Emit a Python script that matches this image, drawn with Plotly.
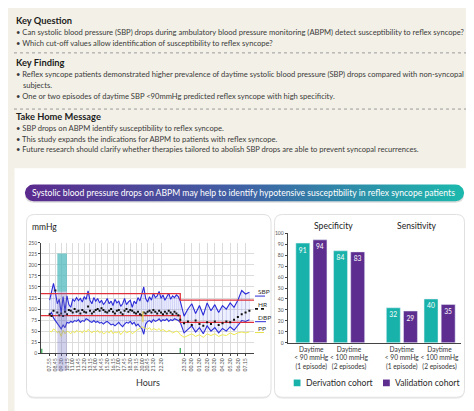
import numpy as np
import plotly.graph_objects as go

W, H = 474, 411

# ---------------- text content ----------------
key_question = [
    "• Can systolic blood pressure (SBP) drops during ambulatory blood pressure monitoring (ABPM) detect susceptibility to reflex syncope?",
    "• Which cut-off values allow identification of susceptibility to reflex syncope?",
]
key_finding = [
    "• Reflex syncope patients demonstrated higher prevalence of daytime systolic blood pressure (SBP) drops compared with non-syncopal",
    "subjects.",
    "• One or two episodes of daytime SBP <90mmHg predicted reflex syncope with high specificity.",
]
take_home = [
    "• SBP drops on ABPM identify susceptibility to reflex syncope.",
    "• This study expands the indications for ABPM to patients with reflex syncope.",
    "• Future research should clarify whether therapies tailored to abolish SBP drops are able to prevent syncopal recurrences.",
]
banner_text = "Systolic blood pressure drops on ABPM may help to identify hypotensive susceptibility in reflex syncope patients"

# ---------------- ABPM data ----------------
day_slots = list(range(68))
night_slots = list(range(68, 105, 2))
slots = day_slots + night_slots
night_start = 68

sbp = [120, 140, 158, 138, 112, 122, 92, 128, 96, 130,
       110, 104, 122, 118, 126, 119, 124, 116, 128, 122,
       141, 120, 112, 126, 118, 124, 114, 120, 110, 116,
       124, 112, 118, 108, 122, 114, 118, 106, 112, 124,
       110, 116, 120, 104, 118, 112, 126, 118, 132, 150,
       124, 116, 128, 120, 136, 126, 130, 140, 124, 132,
       120, 128, 136, 122, 130, 126, 132, 128,
       118, 84, 100, 112, 90, 108, 86, 114, 96, 110, 92, 108, 100, 114, 104, 120, 142, 134, 138]
dbp = [88, 92, 80, 74, 68, 60, 55, 64, 58, 70,
       68, 72, 70, 74, 72, 76, 70, 74, 72, 78,
       76, 72, 70, 74, 70, 72, 68, 70, 66, 70,
       72, 68, 64, 66, 62, 66, 70, 64, 60, 66,
       70, 68, 72, 66, 70, 62, 66, 60, 56, 43,
       66, 72, 74, 70, 76, 72, 74, 78, 72, 76,
       74, 78, 72, 76, 74, 78, 76, 74,
       70, 46, 54, 62, 48, 58, 44, 62, 50, 58, 46, 56, 50, 60, 52, 62, 74, 72, 76]
hr = [88, 84, 96, 142, 92, 86, 90, 84, 94, 88,
      98, 96, 92, 100, 94, 96, 90, 98, 94, 92,
      106, 96, 90, 94, 98, 100, 96, 102, 98, 94,
      92, 96, 100, 94, 90, 96, 98, 92, 88, 96,
      100, 94, 98, 96, 92, 90, 94, 88, 86, 92,
      90, 94, 96, 92, 98, 94, 90, 96, 92, 88,
      94, 90, 96, 92, 88, 94, 90, 86,
      76, 68, 72, 64, 74, 66, 62, 70, 66, 72, 64, 68, 72, 70, 76, 82, 88, 92, 96]
pp = [50, 48, 55, 52, 46, 50, 38, 52, 44, 50,
      48, 44, 50, 46, 52, 48, 50, 46, 52, 48,
      54, 50, 46, 50, 48, 52, 46, 50, 44, 46,
      50, 46, 52, 44, 48, 46, 50, 42, 48, 52,
      46, 48, 50, 44, 48, 52, 54, 56, 60, 58,
      56, 54, 58, 52, 56, 54, 52, 56, 50, 54,
      50, 48, 52, 50, 46, 48, 50, 48,
      42, 36, 40, 44, 38, 42, 36, 44, 40, 44, 38, 42, 40, 46, 42, 46, 48, 46, 48]

tick_slots = [0, 3, 6, 9, 12, 15, 18, 21, 24, 27, 30, 33, 36, 39, 42, 45, 48, 51, 54,
              58, 70, 74, 78, 82, 86, 90, 94, 98, 102]
tick_labels = ["07.55", "08.45", "09.30", "10.15", "11.00", "11.45", "12.30", "13.15", "14.00",
               "14.45", "15.30", "16.15", "17.00", "17.45", "18.30", "19.15", "20.00", "20.45",
               "21.30", "22.30", "23.30", "00.30", "01.30", "02.30", "03.30", "04.30", "05.30",
               "06.30", "07.15"]
sbp_limit = [135, 120]   # day, night
dbp_limit = [85, 70]
syncope_span = [4, 9]
syncope_sbp = [139, 226]
marker_slot = [48, 49]
marker_range = [70, 95]

# ---------------- bar data ----------------
bar_labels = ["Daytime<br>&lt; 90 mmHg<br>(1 episode)", "Daytime<br>&lt; 100 mmHg<br>(2 episodes)",
              "Daytime<br>&lt; 90 mmHg<br>(1 episode)", "Daytime<br>&lt; 100 mmHg<br>(2 episodes)"]
bar_pos = [0, 1, 2.4, 3.4]
derivation = [91, 84, 32, 40]
validation = [94, 83, 29, 35]

TEAL = "#19b2aa"
PURPLE = "#5d2e8f"
BLUE = "#2a2ad8"
FONT = "Lato, 'Open Sans', sans-serif"

fig = go.Figure()

# ---------------- decoration layer (pixel coordinates on x/y) ----------------
def rr(x0, y0, x1, y1, r):
    return (f"M{x0+r},{y0} L{x1-r},{y0} Q{x1},{y0} {x1},{y0+r} L{x1},{y1-r} "
            f"Q{x1},{y1} {x1-r},{y1} L{x0+r},{y1} Q{x0},{y1} {x0},{y1-r} "
            f"L{x0},{y0+r} Q{x0},{y0} {x0+r},{y0} Z")

shapes = []
shapes.append(dict(type="rect", xref="x", yref="y", x0=6.5, y0=159.5, x1=467.5, y1=407,
                   fillcolor="white", line=dict(width=0), layer="below"))
for x0, x1 in [(18.5, 263), (266.5, 456.5)]:
    shapes.append(dict(type="path", xref="x", yref="y", path=rr(x0, 208, x1, 393.5, 8),
                       fillcolor="#ececec", line=dict(width=0), layer="below"))
    shapes.append(dict(type="path", xref="x", yref="y", path=rr(x0, 206.5, x1, 392, 8),
                       fillcolor="white", line=dict(color="#e0e0e0", width=1), layer="below"))
# banner shadow
shapes.append(dict(type="path", xref="x", yref="y", path=rr(17, 177.5, 456, 194.5, 8.5),
                   fillcolor="#dcdcdc", line=dict(width=0), layer="below"))
# dotted separators
for yy in [42.5, 99.5]:
    shapes.append(dict(type="line", xref="x", yref="y", x0=6, x1=470, y0=yy, y1=yy,
                       line=dict(color="#9a9a9a", width=1, dash="dot"), layer="below"))

# gradient pill
r = 8.5
cy = 184.5
xl, xr = 17 + r, 456 - r
t1 = np.linspace(np.pi / 2, 3 * np.pi / 2, 24)
t2 = np.linspace(-np.pi / 2, np.pi / 2, 24)
px = np.concatenate([xl + r * np.cos(t1), xr + r * np.cos(t2)])
py = np.concatenate([cy - r * np.sin(t1), cy - r * np.sin(t2)])
px = np.append(px, px[0])
py = np.append(py, py[0])
fig.add_trace(go.Scatter(x=px, y=py, mode="lines", fill="toself", line=dict(width=0),
                         fillgradient=dict(type="horizontal",
                                           colorscale=[[0, "#5b2a8e"], [0.5, "#3f62a5"], [1, "#1cb9ad"]]),
                         hoverinfo="skip", showlegend=False, xaxis="x", yaxis="y"))

annotations = []
def T(text, x, y, size=7.6, color="#3a3a3a", anchor="left"):
    annotations.append(dict(text=text, x=x, y=y, xref="x", yref="y", xanchor=anchor,
                            yanchor="middle", showarrow=False,
                            font=dict(size=size, color=color, family=FONT)))

T("<b>Key Question</b>", 6, 9.5, 9.3, "#1c1c1c")
for i, s in enumerate(key_question):
    T(s, 6, 21.5 + 11 * i)
T("<b>Key Finding</b>", 6, 52, 9.3, "#1c1c1c")
T(key_finding[0], 6, 63.5)
T(key_finding[1], 13, 74.8)
T(key_finding[2], 6, 86.5)
T("<b>Take Home Message</b>", 6, 107.5, 9.3, "#1c1c1c")
for i, s in enumerate(take_home):
    T(s, 6, 118.5 + 11 * i)
T(banner_text, 235, 184.5, 8.6, "white", "center")

T("mmHg", 21.5, 219, 8.5, "#222")
T("Hours", 140, 377.5, 9, "#333", "center")
T("SBP", 247.5, 285, 6.5, "#333")
T("HR", 247.5, 298, 6.5, "#333")
T("DBP", 247.5, 311.2, 6.5, "#333")
T("PP", 247.5, 322.6, 6.5, "#333")
shapes.append(dict(type="line", xref="x", yref="y", x0=247, x1=257, y0=289.3, y1=289.3, line=dict(color=BLUE, width=1)))
shapes.append(dict(type="line", xref="x", yref="y", x0=247, x1=257, y0=302.3, y1=302.3, line=dict(color="#111", width=1.6, dash="dot")))
shapes.append(dict(type="line", xref="x", yref="y", x0=247, x1=258, y0=315.3, y1=315.3, line=dict(color=BLUE, width=1)))
shapes.append(dict(type="line", xref="x", yref="y", x0=247, x1=256, y0=326.3, y1=326.3, line=dict(color="#e6e24a", width=1)))

T("Specificity", 325, 218.5, 8.6, "#222", "center")
T("Sensitivity", 408.5, 218.5, 8.6, "#222", "center")
shapes.append(dict(type="rect", xref="x", yref="y", x0=285.7, x1=292.5, y0=374, y1=380.8, fillcolor=TEAL, line=dict(width=0)))
shapes.append(dict(type="rect", xref="x", yref="y", x0=375, x1=381.8, y0=374, y1=380.8, fillcolor=PURPLE, line=dict(width=0)))
T("Derivation cohort", 295.5, 377.5, 8.6, "#2a2a2a")
T("Validation cohort", 384.5, 377.5, 8.6, "#2a2a2a")

# ---------------- ABPM chart ----------------
ydom = [1 - 347.3 / H, 1 - 235 / H]
xr2 = [-4.5, 106.4]
n = len(slots)
fig.add_trace(go.Scatter(x=slots, y=dbp, mode="lines", line=dict(color=BLUE, width=1.1),
                         hoverinfo="skip", showlegend=False, xaxis="x2", yaxis="y2"))
fig.add_trace(go.Scatter(x=slots, y=sbp, mode="lines", line=dict(color=BLUE, width=1.1),
                         fill="tonexty", fillcolor="rgba(140,150,240,0.14)",
                         error_y=dict(type="data", symmetric=False, array=[0] * n,
                                      arrayminus=[s - d for s, d in zip(sbp, dbp)],
                                      color="rgba(90,100,230,0.38)", thickness=0.5, width=0),
                         hoverinfo="skip", showlegend=False, xaxis="x2", yaxis="y2"))
fig.add_trace(go.Scatter(x=slots, y=pp, mode="lines", line=dict(color="#eeea55", width=1),
                         hoverinfo="skip", showlegend=False, xaxis="x2", yaxis="y2"))
for lim in (sbp_limit, dbp_limit):
    fig.add_trace(go.Scatter(x=[xr2[0], night_start, xr2[1]], y=[lim[0], lim[1], lim[1]],
                             mode="lines", line=dict(color="#e0303a", width=1.3, shape="hv"),
                             hoverinfo="skip", showlegend=False, xaxis="x2", yaxis="y2"))
fig.add_trace(go.Scatter(x=slots, y=hr, mode="markers",
                         marker=dict(symbol="square", size=2, color="#111"),
                         hoverinfo="skip", showlegend=False, xaxis="x2", yaxis="y2"))
fig.add_trace(go.Scatter(x=[xr2[0] + 0.4, xr2[0] + 0.4, None, night_start, night_start],
                         y=[0, 10, None, 0, 12], mode="lines",
                         line=dict(color="#2fa84a", width=1.2),
                         hoverinfo="skip", showlegend=False, xaxis="x2", yaxis="y2"))

# syncope highlight
shapes.append(dict(type="rect", xref="x2", yref="y2", x0=syncope_span[0], x1=syncope_span[1],
                   y0=syncope_sbp[0], y1=syncope_sbp[1], fillcolor="rgba(80,185,190,0.75)",
                   line=dict(width=0), layer="above"))
ybot = 1 - 365 / H
ytop = ydom[0] + syncope_sbp[0] / 250 * (ydom[1] - ydom[0])
shapes.append(dict(type="rect", xref="x2", yref="paper", x0=syncope_span[0], x1=syncope_span[1],
                   y0=ybot, y1=ytop, fillcolor="rgba(110,110,190,0.32)",
                   line=dict(width=0), layer="above"))
shapes.append(dict(type="rect", xref="x2", yref="y2", x0=marker_slot[0], x1=marker_slot[1],
                   y0=marker_range[0], y1=marker_range[1], fillcolor="rgba(235,215,80,0.7)",
                   line=dict(width=0), layer="above"))

# ---------------- bar chart ----------------
fig.add_trace(go.Bar(x=bar_pos, y=derivation, width=0.37, offset=-0.41, marker_color=TEAL,
                     text=[str(v) for v in derivation], textposition="inside",
                     insidetextanchor="end", textangle=0,
                     textfont=dict(color="white", size=8.2, family=FONT),
                     hoverinfo="skip", showlegend=False, xaxis="x3", yaxis="y3"))
fig.add_trace(go.Bar(x=bar_pos, y=validation, width=0.37, offset=0.045, marker_color=PURPLE,
                     text=[str(v) for v in validation], textposition="inside",
                     insidetextanchor="end", textangle=0,
                     textfont=dict(color="white", size=8.2, family=FONT),
                     hoverinfo="skip", showlegend=False, xaxis="x3", yaxis="y3"))

fig.update_layout(
    width=W, height=H, margin=dict(l=0, r=0, t=0, b=0),
    paper_bgcolor="#f3f1e7", plot_bgcolor="rgba(0,0,0,0)",
    font=dict(family=FONT, color="#333"),
    shapes=shapes, annotations=annotations, showlegend=False,
    xaxis=dict(domain=[0, 1], range=[0, W], visible=False, fixedrange=True),
    yaxis=dict(domain=[0, 1], range=[H, 0], visible=False, fixedrange=True),
    xaxis2=dict(domain=[33 / W, 246 / W], range=xr2, anchor="y2", tickmode="array",
                tickvals=tick_slots, ticktext=tick_labels, tickangle=-90,
                tickfont=dict(size=5.2, color="#555"), showgrid=True, gridcolor="#dcdcdc",
                gridwidth=0.6, showline=True, linecolor="#444", linewidth=0.8,
                ticks="outside", ticklen=2, tickcolor="#444", zeroline=False),
    yaxis2=dict(domain=ydom, range=[0, 250.5], anchor="x2", tick0=0, dtick=25,
                tickfont=dict(size=5, color="#555"), showgrid=True, gridcolor="#dcdcdc",
                gridwidth=0.6, showline=True, linecolor="#444", linewidth=0.8,
                ticks="outside", ticklen=2, tickcolor="#444", zeroline=False),
    xaxis3=dict(domain=[280 / W, 453 / W], range=[-0.618, 3.97], anchor="y3", tickmode="array",
                tickvals=bar_pos, ticktext=bar_labels, tickangle=0,
                tickfont=dict(size=6.6, color="#333"),
                showgrid=False, showline=True, linecolor="#444", linewidth=0.8, ticks="",
                zeroline=False),
    yaxis3=dict(domain=[1 - 336.7 / H, 1 - 225 / H], range=[0, 100.5], anchor="x3", dtick=10,
                tickfont=dict(size=5, color="#555"), showgrid=False, showline=True,
                linecolor="#444", linewidth=0.8, ticks="outside", ticklen=2.5,
                tickcolor="#444", zeroline=False),
)

fig.write_html("out.html", config={"displayModeBar": False})
